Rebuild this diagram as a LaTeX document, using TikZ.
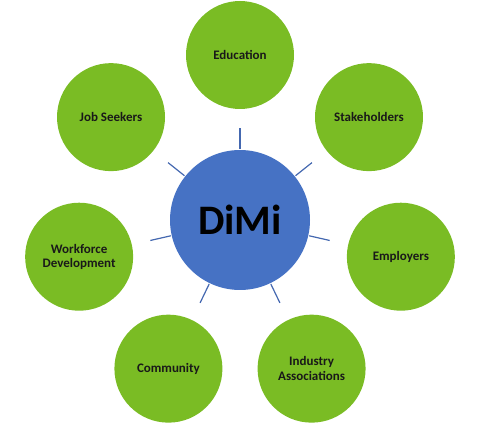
\documentclass[tikz,border=0pt]{standalone}
\usepackage{fontspec}
\setmainfont{Carlito}
\usetikzlibrary{calc}
\definecolor{satgreen}{RGB}{122,188,36}
\definecolor{hubblue}{RGB}{70,114,196}
\definecolor{spokeblue}{RGB}{68,104,176}
\begin{document}
\begin{tikzpicture}[x=1pt,y=-1pt,
  sat/.style={circle,fill=satgreen,minimum size=108pt,inner sep=0pt,align=center,
    font=\fontsize{13}{14.5}\selectfont\bfseries,text=black!90},
  hub/.style={circle,fill=hubblue,minimum size=140pt,inner sep=0pt,
    font=\fontsize{42}{46}\selectfont\bfseries,text=black},
  spoke/.style={draw=spokeblue,line width=1.2pt}]
\useasboundingbox (0,0) rectangle (480,425);
\coordinate (c) at (240,220);
\node[hub] (hub) at (c) {DiMi};
\foreach \k/\name/\txt in {0/edu/Education,1/stk/Stakeholders,2/emp/Employers,3/ind/{Industry\\Associations},4/com/Community,5/wfd/{Workforce\\Development},6/job/Job Seekers}{
  \pgfmathsetmacro{\ang}{-90+\k*360/7}
  \node[sat] (\name) at ($(c)+(\ang:165)$) {\txt};
  \coordinate (s1\name) at ($(c)+(\ang:71)$);
  \coordinate (s2\name) at ($(c)+(\ang:92)$);
  \draw[spoke] (s1\name) -- (s2\name);
}
\end{tikzpicture}
\end{document}
